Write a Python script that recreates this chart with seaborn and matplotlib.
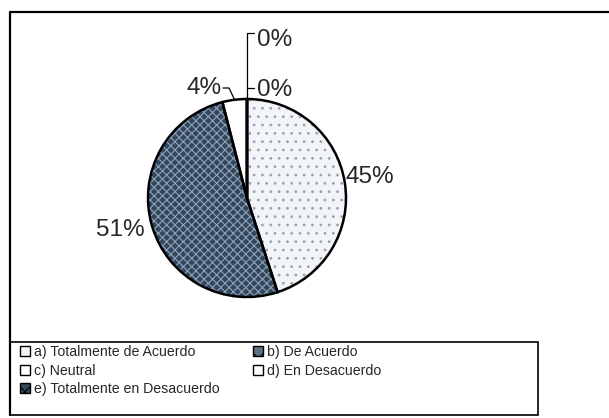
import numpy as np
import matplotlib
matplotlib.use("Agg")
import matplotlib.pyplot as plt
import seaborn as sns
from matplotlib.patches import Patch, Rectangle

# data
categories = ["a) Totalmente de Acuerdo", "b) De Acuerdo", "c) Neutral",
              "d) En Desacuerdo", "e) Totalmente en Desacuerdo"]
pie_order = [0, 4, 3, 2, 1]          # clockwise from 12 o'clock, as in the picture
percent = [45, 0, 0, 4, 51]
pct_labels = ["45%", "0%", "0%", "4%", "51%"]

sns.set_style("white")
plt.rcParams["font.family"] = ["Liberation Sans", "DejaVu Sans"]
plt.rcParams["hatch.linewidth"] = 0.8

light = "#f2f4f8"
dark = "#34475c"
face = {0: light, 1: "#5d7186", 2: "white", 3: "white", 4: dark}

fig = plt.figure(figsize=(6.09, 4.18), dpi=100)
ax = fig.add_axes([0, 0, 1, 1])

vals = [percent[i] for i in pie_order]
cols = [face[i] if i != 1 else dark for i in pie_order]
center = (247, 220)
R = 99

wedges, _ = ax.pie(vals, colors=cols, startangle=90, counterclock=False,
                   center=center, radius=R, frame=True,
                   wedgeprops=dict(linewidth=0))
# texture layers
hatch_cols = {0: "#9aa3b4", 4: "#8fa4bb", 3: "none", 2: "none", 1: "none"}
hatches = {0: "..", 4: "xxxx", 3: "", 2: "", 1: ""}
ax.pie(vals, colors=["none"] * 5, startangle=90, counterclock=False,
       center=center, radius=R, frame=True,
       wedgeprops=dict(linewidth=0),
       hatch=[hatches[i] for i in pie_order])
for w, i in zip(ax.patches[5:], pie_order):
    w.set_edgecolor(hatch_cols[i])
    w.set_linewidth(0)
ax.pie(vals, colors=["none"] * 5, startangle=90, counterclock=False,
       center=center, radius=R, frame=True,
       wedgeprops=dict(linewidth=1.8, edgecolor="black"))

# percentage labels
def edge_point(w):
    t = np.deg2rad((w.theta1 + w.theta2) / 2)
    return center[0] + R * np.cos(t), center[1] + R * np.sin(t)

lab = dict(zip(pie_order, pct_labels))
fs = 17.5
# a) 45%
ax.text(346, 241, lab[0], fontsize=fs, ha="left", va="center")
# b) 51%
ax.text(145, 188, lab[1], fontsize=fs, ha="right", va="center")
# c) 4%
x4, y4 = edge_point(wedges[2])
ax.plot([223, 229, x4], [330, 330, y4], color="black", lw=0.9)
ax.text(222, 330, lab[2], fontsize=fs, ha="right", va="center")
# d) 0%
xd, yd = edge_point(wedges[3])
ax.plot([xd, xd, 254], [yd, 385, 385], color="black", lw=0.9)
ax.text(257, 378, lab[3], fontsize=fs, ha="left", va="center")
ax.plot([xd, 254], [330, 330], color="black", lw=0.9)
ax.text(257, 328, lab[4], fontsize=fs, ha="left", va="center")

# frames
ax.plot([10, 10, 609], [3, 406, 406], color="black", lw=1.6)
ax.add_patch(Rectangle((10, 3), 528, 73, fill=False, edgecolor="black", lw=1.2))

handles = [Patch(facecolor=face[i], edgecolor="black", lw=1.0,
                 hatch="xx" if i in (1, 4) else None) for i in range(5)]
leg_order = [0, 2, 4, 1, 3]   # row-major a b / c d / e in two columns
leg = ax.legend([handles[i] for i in leg_order], [categories[i] for i in leg_order],
                ncol=2, loc="upper left",
                bbox_to_anchor=(16, 77), bbox_transform=ax.transData,
                frameon=False, fontsize=10.2, handlelength=0.7, handleheight=0.7,
                handletextpad=0.25, labelspacing=0.3, columnspacing=2.4,
                borderaxespad=0, borderpad=0.3)

ax.set_xlim(0, 609)
ax.set_ylim(0, 418)
ax.set_axis_off()

fig.savefig("out.png", dpi=100)
